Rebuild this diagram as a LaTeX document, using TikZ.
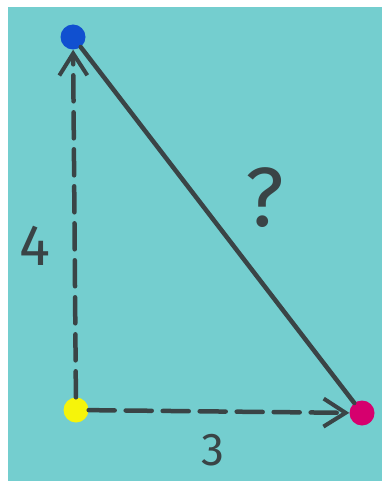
\documentclass[tikz,border=0pt]{standalone}
\usepackage{fontspec}
\setmainfont{Fira Sans}
\usetikzlibrary{arrows.meta}
\definecolor{board}{RGB}{116,206,207}
\definecolor{chalk}{RGB}{58,68,70}
\definecolor{dotblue}{RGB}{16,80,208}
\definecolor{dotyellow}{RGB}{246,244,10}
\definecolor{dotpink}{RGB}{214,0,110}
\tikzset{
  dot/.style={circle,inner sep=0pt,minimum size=25pt},
  side/.style={chalk,line width=4.5pt,line cap=round},
  dashside/.style={side,dash pattern=on 26pt off 11pt},
  tip/.style={-{Straight Barb[length=22pt,width=28pt,line width=4pt]}},
  lbl/.style={text=chalk,inner sep=0pt,font=\fontsize{#1}{#1}\selectfont}
}
\begin{document}
\begin{tikzpicture}[x=1pt,y=-1pt]
    \useasboundingbox (0,0) rectangle (382,481);
    \fill[board] (8,7) rectangle (382,481);
    % corners
    \node[dot,fill=dotblue] (top) at (73,37) {};
    \node[dot,fill=dotyellow] (corner) at (76,410) {};
    \node[dot,fill=dotpink] (right) at (362,413) {};
    % sides
    \draw[dashside,tip] (corner) -- (top);
    \draw[dashside,tip] (corner) -- (right);
    \draw[side] (right) -- (top);
    % labels
    \node[lbl=58] (four) at (35,246) {4};
    \node[lbl=46] (three) at (213,450) {3};
    \node[lbl=84] (what) at (265,198) {?};
\end{tikzpicture}
\end{document}
